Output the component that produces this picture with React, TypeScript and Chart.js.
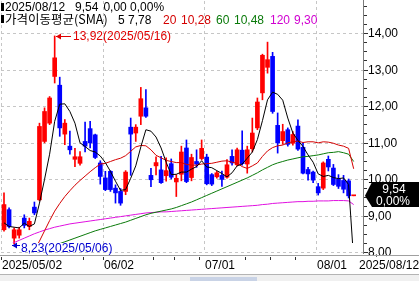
import React, { useEffect, useRef } from "react";
import { Chart, registerables } from "chart.js";

Chart.register(...registerables);

// ---------- data ----------
const dates = [
  "2025/05/02", "2025/05/05", "2025/05/06", "2025/05/07", "2025/05/08", "2025/05/09",
  "2025/05/12", "2025/05/13", "2025/05/14", "2025/05/15", "2025/05/16",
  "2025/05/19", "2025/05/20", "2025/05/21", "2025/05/22", "2025/05/23",
  "2025/05/27", "2025/05/28", "2025/05/29", "2025/05/30",
  "2025/06/02", "2025/06/03", "2025/06/04", "2025/06/05", "2025/06/06",
  "2025/06/09", "2025/06/10", "2025/06/11", "2025/06/12", "2025/06/13",
  "2025/06/16", "2025/06/17", "2025/06/18", "2025/06/20",
  "2025/06/23", "2025/06/24", "2025/06/25", "2025/06/26", "2025/06/27",
  "2025/06/30", "2025/07/01", "2025/07/02", "2025/07/03",
  "2025/07/07", "2025/07/08", "2025/07/09", "2025/07/10", "2025/07/11",
  "2025/07/14", "2025/07/15", "2025/07/16", "2025/07/17", "2025/07/18",
  "2025/07/21", "2025/07/22", "2025/07/23", "2025/07/24", "2025/07/25",
  "2025/07/28", "2025/07/29", "2025/07/30", "2025/07/31", "2025/08/01",
  "2025/08/04", "2025/08/05", "2025/08/06", "2025/08/07", "2025/08/08",
  "2025/08/11", "2025/08/12",
];

const opens = [
  8.61, 9.16, 8.38, 8.46, 8.93, 8.70, 9.23, 9.43, 11.03, 11.53,
  12.81, 12.57, 11.23, 10.90, 10.54, 10.43, 11.03, 11.38, 11.21, 10.44,
  10.03, 10.21, 9.75, 9.66, 9.66, 11.42, 11.26, 11.72, 11.95, 10.10,
  10.36, 10.25, 10.09, 10.42, 9.92, 10.13, 10.85, 10.04, 10.48, 10.56,
  10.60, 10.12, 10.06, 10.10, 10.05, 10.62, 10.39, 10.79, 10.41, 10.83,
  11.40, 12.36, 13.06, 13.36, 11.47, 11.05, 11.35, 10.98, 11.45, 10.87,
  10.26, 10.19, 9.79, 9.75, 10.54, 10.30, 10.00, 9.96, 9.95, 9.54,
];
const highs = [
  9.62, 9.21, 8.66, 8.68, 9.02, 8.93, 9.37, 11.53, 11.95, 12.26,
  13.92, 12.79, 11.63, 11.31, 10.84, 10.75, 11.56, 11.58, 11.23, 10.50,
  10.21, 10.23, 9.84, 9.74, 10.23, 11.67, 11.49, 12.51, 12.45, 10.29,
  10.61, 10.62, 10.58, 10.55, 10.12, 10.90, 11.07, 10.68, 10.80, 11.07,
  10.68, 10.15, 10.21, 10.22, 10.53, 10.80, 10.85, 11.32, 10.90, 11.67,
  12.22, 13.42, 13.75, 13.47, 11.81, 11.50, 11.40, 11.30, 11.62, 10.99,
  10.32, 10.22, 9.88, 10.47, 10.63, 10.40, 10.12, 10.10, 10.00, 9.54,
];
const lows = [
  8.57, 8.66, 8.23, 8.38, 8.66, 8.61, 9.02, 9.40, 10.99, 11.49,
  12.63, 11.17, 10.94, 10.68, 10.34, 10.38, 10.74, 10.85, 10.56, 9.86,
  9.68, 9.66, 9.34, 9.28, 9.57, 10.10, 11.03, 11.49, 11.69, 9.79,
  10.11, 9.88, 9.94, 10.00, 9.52, 9.95, 9.90, 9.95, 10.32, 10.52,
  9.84, 9.82, 10.02, 9.80, 10.02, 10.38, 10.36, 10.38, 10.16, 10.74,
  11.35, 12.17, 12.90, 11.80, 10.71, 10.95, 10.90, 10.93, 10.78, 10.14,
  9.97, 9.90, 9.56, 9.71, 10.22, 9.82, 9.74, 9.62, 9.48, 9.54,
];
const closes = [
  9.30, 8.70, 8.61, 8.61, 8.73, 8.84, 9.07, 11.44, 11.85, 12.22,
  13.32, 11.40, 11.53, 10.80, 10.61, 10.61, 10.90, 10.99, 10.59, 10.07,
  9.71, 9.71, 9.62, 9.34, 10.19, 11.23, 11.42, 12.20, 11.72, 9.98,
  10.45, 9.90, 10.23, 10.05, 10.02, 10.74, 9.93, 10.59, 10.41, 10.84,
  9.87, 9.86, 10.17, 9.99, 10.39, 10.44, 10.80, 10.42, 10.80, 11.26,
  12.11, 13.39, 13.27, 11.85, 10.99, 11.30, 10.95, 11.22, 10.82, 10.16,
  10.14, 9.97, 9.62, 10.44, 10.33, 9.85, 9.80, 9.72, 9.54, 9.54,
];

const ma5 = [
  8.80, 8.70, 8.68, 8.66, 8.79, 8.70, 8.77, 9.34, 9.99, 10.68,
  11.58, 12.05, 12.06, 11.85, 11.53, 10.99, 10.89, 10.78, 10.74, 10.63,
  10.45, 10.21, 9.94, 9.69, 9.71, 10.02, 10.36, 10.88, 11.35, 11.31,
  11.15, 10.85, 10.46, 10.12, 10.13, 10.19, 10.19, 10.27, 10.34, 10.50,
  10.33, 10.31, 10.23, 10.15, 10.06, 10.17, 10.36, 10.41, 10.57, 10.74,
  11.08, 11.60, 12.17, 12.38, 12.32, 12.16, 11.67, 11.26, 11.06, 10.89,
  10.66, 10.46, 10.14, 10.07, 10.10, 10.04, 10.01, 10.03, 9.85, 7.78,
];
const ma20 = [
  7.55, 7.60, 7.66, 7.72, 7.79, 7.86, 8.05, 8.30, 8.58, 8.86,
  9.12, 9.33, 9.52, 9.68, 9.83, 9.96, 10.08, 10.20, 10.31, 10.41,
  10.43, 10.48, 10.53, 10.57, 10.64, 10.76, 10.88, 10.92, 10.91, 10.80,
  10.65, 10.58, 10.51, 10.48, 10.45, 10.45, 10.40, 10.38, 10.38, 10.41,
  10.42, 10.43, 10.46, 10.49, 10.50, 10.46, 10.43, 10.34, 10.29, 10.36,
  10.44, 10.62, 10.77, 10.86, 10.91, 10.93, 10.99, 11.02, 11.04, 11.00,
  11.02, 11.02, 10.99, 11.02, 11.01, 10.98, 10.93, 10.90, 10.84, 10.28,
];
const ma60 = [
  7.68, 7.73, 7.78, 7.83, 7.88, 7.93, 7.98, 8.03, 8.08, 8.13,
  8.18, 8.23, 8.28, 8.33, 8.38, 8.43, 8.48, 8.53, 8.58, 8.62,
  8.66, 8.70, 8.74, 8.78, 8.82, 8.87, 8.92, 8.97, 9.02, 9.06,
  9.09, 9.12, 9.15, 9.18, 9.22, 9.27, 9.32, 9.37, 9.43, 9.49,
  9.55, 9.61, 9.67, 9.73, 9.79, 9.85, 9.91, 9.97, 10.03, 10.10,
  10.17, 10.25, 10.32, 10.39, 10.44, 10.48, 10.52, 10.55, 10.58, 10.61,
  10.62, 10.64, 10.66, 10.69, 10.72, 10.73, 10.75, 10.72, 10.68, 10.48,
];
const ma120 = [
  8.12, 8.19, 8.26, 8.32, 8.38, 8.44, 8.50, 8.55, 8.60, 8.64,
  8.68, 8.71, 8.74, 8.77, 8.79, 8.81, 8.83, 8.85, 8.87, 8.89,
  8.91, 8.93, 8.95, 8.97, 8.99, 9.01, 9.03, 9.05, 9.07, 9.08,
  9.09, 9.10, 9.10, 9.11, 9.12, 9.13, 9.14, 9.15, 9.16, 9.17,
  9.18, 9.19, 9.20, 9.21, 9.22, 9.23, 9.24, 9.25, 9.26, 9.27,
  9.28, 9.30, 9.31, 9.33, 9.34, 9.35, 9.36, 9.37, 9.38, 9.38,
  9.39, 9.39, 9.40, 9.40, 9.40, 9.41, 9.41, 9.41, 9.40, 9.30,
];

const yTicks = [8, 9, 10, 11, 12, 13, 14];
const maPeriods = [5, 20, 60, 120];
const maSeries = [ma5, ma20, ma60, ma120];
const maColors = ["#000000", "#d40000", "#0a7a0a", "#e010e0"];
const maTextColors = ["#000000", "#d40000", "#0a7a0a", "#d000d0"];
const legendTitle = "가격이동평균(SMA)";
const lastChange = 0.0;
const lastChangePct = 0.0;

// ---------- styling ----------
const RED = "#ff0000";
const BLUE = "#0000ff";
const FONT = '12px "Liberation Sans", Arial, sans-serif';
const KFONT = '12.5px "Noto Sans CJK KR", "Liberation Sans", sans-serif';

const fmt = (v: number) => v.toFixed(2).replace(".", ",");

const dayInfo = dates.map((d) => {
  const [yy, mm, dd] = d.split("/").map(Number);
  return { m: mm, dow: new Date(yy, mm - 1, dd).getDay() };
});
const monthStarts = dates.map((_, i) => i).filter((i) => i === 0 || dayInfo[i].m !== dayInfo[i - 1].m);
const weekStarts = dates.map((_, i) => i).filter((i) => i === 0 || dayInfo[i].dow <= dayInfo[i - 1].dow);

function line(ctx: CanvasRenderingContext2D, x1: number, y1: number, x2: number, y2: number) {
  ctx.beginPath();
  ctx.moveTo(x1, y1);
  ctx.lineTo(x2, y2);
  ctx.stroke();
}

const htsPlugin = {
  id: "hts",
  beforeDatasetsDraw(chart: any) {
    const { ctx, chartArea: a, scales } = chart;
    const x = scales.x;
    const y = scales.y;
    ctx.save();
    ctx.strokeStyle = "#c6c6c6";
    ctx.lineWidth = 1;
    ctx.setLineDash([3, 3]);
    for (const v of yTicks) {
      const py = Math.round(y.getPixelForValue(v)) + 0.5;
      line(ctx, a.left, py, a.right, py);
    }
    for (const i of monthStarts) {
      const px = Math.round(x.getPixelForValue(i - 0.5)) + 0.5;
      line(ctx, px, a.top, px, a.bottom);
    }
    ctx.restore();
  },
  afterDraw(chart: any) {
    const { ctx, chartArea: a, scales, width, height } = chart;
    const x = scales.x;
    const y = scales.y;
    ctx.save();
    ctx.setLineDash([]);

    // right price axis
    ctx.strokeStyle = "#7a7a7a";
    ctx.lineWidth = 1;
    line(ctx, a.right + 0.5, 0, a.right + 0.5, a.bottom + 1);
    ctx.strokeStyle = "#303030";
    for (let v = 8; v <= 14.75; v += 0.25) {
      const py = Math.round(y.getPixelForValue(v)) + 0.5;
      const major = Math.abs(v - Math.round(v)) < 1e-6;
      line(ctx, a.right + 1, py, a.right + (major ? 5 : 4), py);
    }
    ctx.fillStyle = "#000000";
    ctx.font = FONT;
    ctx.textAlign = "left";
    ctx.textBaseline = "middle";
    for (const v of yTicks) {
      ctx.fillText(fmt(v), a.right + 5, y.getPixelForValue(v) + 1);
    }

    // bottom date axis
    ctx.strokeStyle = "#a0a0a0";
    line(ctx, 0, a.bottom + 2.5, width, a.bottom + 2.5);
    ctx.strokeStyle = "#303030";
    for (const i of weekStarts) {
      const px = Math.round(x.getPixelForValue(i - 0.5)) + 0.5;
      line(ctx, px, a.bottom + 4, px, a.bottom + 7);
    }
    ctx.font = FONT;
    ctx.textBaseline = "alphabetic";
    const labelItems = monthStarts.map((i) => ({
      text: i === 0 ? dates[i] : dates[i].slice(5),
      px: Math.round(x.getPixelForValue(i - 0.5)) + 1,
    }));
    labelItems.push({ text: dates[dates.length - 1], px: a.right - 4 });
    for (const it of labelItems) {
      const w = ctx.measureText(it.text).width;
      ctx.fillStyle = "#ffffff";
      ctx.fillRect(it.px, a.bottom + 4, w + 1, 14);
      ctx.fillStyle = "#000000";
      ctx.fillText(it.text, it.px, a.bottom + 16);
    }

    // scroll bar strip
    ctx.fillStyle = "#f0f0f0";
    ctx.fillRect(0, height - 6, width, 6);
    ctx.strokeStyle = "#b4b4b4";
    line(ctx, 0, height - 6.5, width, height - 6.5);
    ctx.fillStyle = "#c9d3e6";
    ctx.fillRect(190, height - 4, 67, 4);

    // legend
    ctx.fillStyle = "#000000";
    ctx.fillRect(1, 3, 3, 8);
    ctx.fillRect(1, 15, 3, 8);
    ctx.font = FONT;
    ctx.textBaseline = "alphabetic";
    const last = closes.length - 1;
    let lx0 = 5;
    ctx.fillText(dates[last], lx0, 11);
    lx0 += ctx.measureText(dates[last]).width + 10;
    ctx.fillText(fmt(closes[last]), lx0, 11);
    lx0 += ctx.measureText(fmt(closes[last])).width + 5;
    ctx.fillText(fmt(lastChange) + " " + fmt(lastChangePct) + "%", lx0, 11);
    ctx.font = KFONT;
    ctx.fillText(legendTitle, 5, 24);
    ctx.font = FONT;
    const legendX = [[118, 128], [163, 181], [216, 234], [270, 294]];
    maPeriods.forEach((p, k) => {
      ctx.fillStyle = maTextColors[k];
      const s = maSeries[k];
      ctx.fillText(String(p), legendX[k][0], 24);
      ctx.fillText(fmt(s[s.length - 1]), legendX[k][1], 24);
    });

    // high / low markers
    let hi = 0;
    let lo = 0;
    highs.forEach((v, i) => { if (v > highs[hi]) hi = i; });
    lows.forEach((v, i) => { if (v < lows[lo]) lo = i; });
    const drawArrow = (px: number, py: number, len: number, color: string) => {
      ctx.strokeStyle = color;
      ctx.fillStyle = color;
      line(ctx, px, py + 0.5, px + len, py + 0.5);
      ctx.beginPath();
      ctx.moveTo(px, py + 0.5);
      ctx.lineTo(px + 5, py - 2.5);
      ctx.lineTo(px + 5, py + 3.5);
      ctx.closePath();
      ctx.fill();
    };
    const hx = Math.round(x.getPixelForValue(hi)) + 1;
    const hy = Math.round(y.getPixelForValue(highs[hi]));
    drawArrow(hx, hy, 15, "#e00000");
    ctx.font = FONT;
    ctx.textBaseline = "middle";
    ctx.fillText(fmt(highs[hi]) + "(" + dates[hi] + ")", hx + 17, hy + 1);

    const lx = Math.round(x.getPixelForValue(lo)) - 2;
    const ly = Math.round(y.getPixelForValue(lows[lo])) + 1;
    drawArrow(lx, ly, 8, "#0000d0");
    ctx.fillText(fmt(lows[lo]) + "(" + dates[lo] + ")", lx + 9, ly + 4);

    // last price tag
    const pY = y.getPixelForValue(closes[last]);
    const top = Math.round(pY) - 14;
    const bot = Math.round(pY) + 11;
    ctx.fillStyle = "#000000";
    ctx.beginPath();
    ctx.moveTo(a.right + 2, pY);
    ctx.lineTo(a.right + 9, top);
    ctx.lineTo(width, top);
    ctx.lineTo(width, bot);
    ctx.lineTo(a.right + 9, bot);
    ctx.closePath();
    ctx.fill();
    ctx.fillStyle = "#ffffff";
    ctx.textAlign = "center";
    ctx.textBaseline = "middle";
    ctx.fillText(fmt(closes[last]), 394, top + 8);
    ctx.fillText(fmt(lastChangePct) + "%", 393, top + 20);

    ctx.restore();
  },
};

export default function App() {
  const ref = useRef<HTMLCanvasElement | null>(null);

  useEffect(() => {
    if (!ref.current) return;
    const lineClip = { left: 0, top: 0, right: 0, bottom: -10 };
    const lineSets = maSeries.map((s, k) => ({
      type: "line" as const,
      label: "MA" + maPeriods[k],
      data: s.map((v, i) => ({ x: i, y: v })),
      borderColor: maColors[k],
      borderWidth: 1,
      pointRadius: 0,
      tension: 0,
      fill: false,
      clip: lineClip,
      order: k + 1,
    }));
    const candleColor = (c: any) => {
      const i = c.dataIndex;
      return closes[i] >= opens[i] ? RED : BLUE;
    };
    const chart = new Chart(ref.current, {
      type: "bar",
      data: {
        datasets: [
          ...lineSets,
          {
            type: "bar",
            label: "body",
            data: opens.map((o, i) => ({ x: i, y: [o, closes[i]] })) as any,
            backgroundColor: candleColor,
            barThickness: 4,
            minBarLength: 1,
            grouped: false,
            order: 10,
          },
          {
            type: "bar",
            label: "wick",
            data: lows.map((l, i) => ({ x: i, y: [l, highs[i]] })) as any,
            backgroundColor: candleColor,
            barThickness: 1,
            grouped: false,
            order: 11,
          },
        ] as any,
      },
      options: {
        animation: false,
        responsive: false,
        maintainAspectRatio: false,
        events: [],
        layout: { padding: { left: 1, top: 1, right: 56, bottom: 28 } },
        plugins: { legend: { display: false }, tooltip: { enabled: false } },
        scales: {
          x: { type: "linear", min: -0.592, max: 70.84, display: false, offset: false },
          y: { type: "linear", min: 7.973, max: 14.877, display: false },
        },
      },
      plugins: [htsPlugin],
    });
    return () => chart.destroy();
  }, []);

  return (
    <div style={{ position: "fixed", left: 0, top: 0, width: 419, height: 281, background: "#ffffff" }}>
      <canvas ref={ref} width={419} height={281} style={{ width: 419, height: 281, display: "block" }} />
    </div>
  );
}
